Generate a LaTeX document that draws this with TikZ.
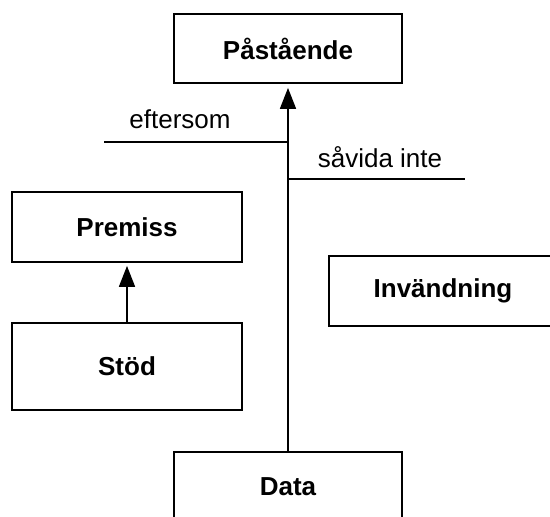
\documentclass[tikz,border=0pt]{standalone}
\usepackage{fontspec}
\setmainfont{Liberation Sans}
\usetikzlibrary{arrows.meta,positioning}

\begin{document}
\begin{tikzpicture}[x=1pt,y=-1pt,>={Triangle[width=16pt,length=21pt]},
  box/.style={draw,line width=1.8pt,minimum width=228pt,minimum height=69pt,inner sep=0pt,font=\fontsize{26}{30}\selectfont\bfseries},
  lbl/.style={inner sep=0pt,anchor=base,font=\fontsize{26}{30}\selectfont},
  link/.style={line width=1.8pt}]
\useasboundingbox (0,0) rectangle (550,517);
\clip (0,0) rectangle (550,517);
% boxes
\node[box] (claim) at (288,48.5) {Påstående};
\node[box,minimum width=230pt,minimum height=70pt] (prem) at (127,227) {Premiss};
\node[box,minimum width=230pt,minimum height=87pt] (stod) at (127,366.5) {Stöd};
\node[box,minimum height=70pt] (inv) at (443,291) {Invändning};
\node[box] (data) at (288,486.5) {Data};
% arrows
\draw[link,->,shorten >=4pt] (data) -- (claim);
\draw[link,->,shorten >=3pt] (stod) -- (prem);
% warrant and rebuttal lines
\coordinate (efL) at (104,142);
\coordinate (svR) at (465,179);
\draw[link] (efL) -- (efL -| claim.south);
\draw[link] (svR -| claim.south) -- (svR);
\node[lbl] (eftersom) at (180,128) {eftersom};
\node[lbl] (savida) at (380,167) {såvida inte};
\end{tikzpicture}
\end{document}
